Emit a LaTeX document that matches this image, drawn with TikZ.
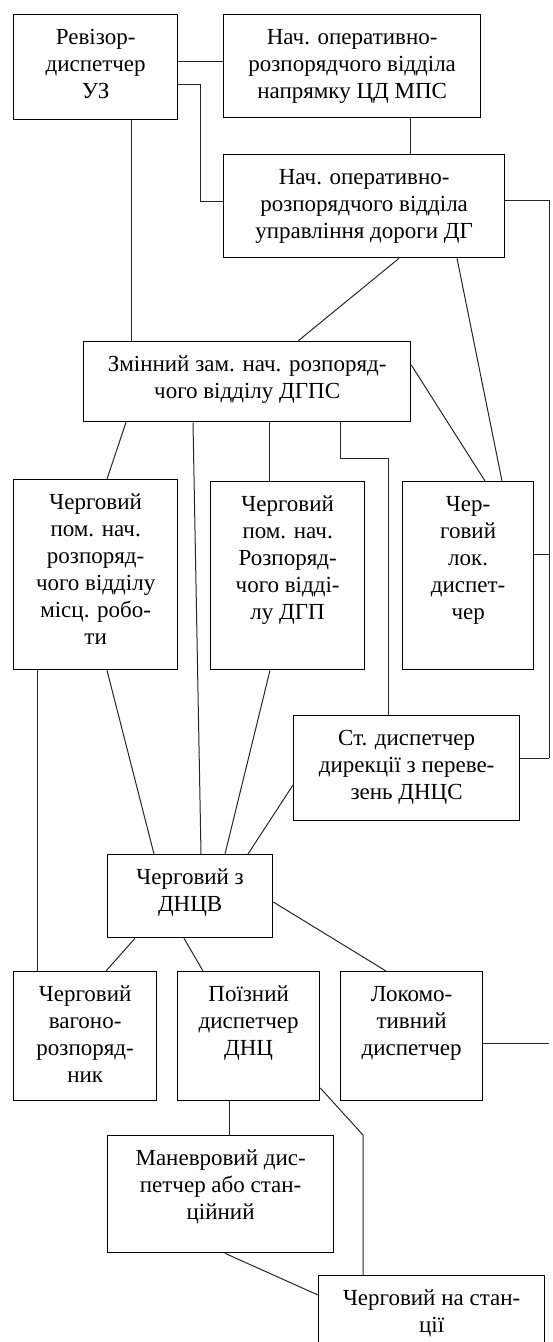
\documentclass[tikz,border=0pt]{standalone}
\usepackage{fontspec}
\setmainfont{Liberation Serif}
\newcommand{\bxt}[3]{\parbox[c][#2pt][t]{#1pt}{\centering\rule{0pt}{30pt}#3}}
\begin{document}
\begin{tikzpicture}[x=1pt,y=-1pt,
  bx/.style={draw=black, line width=1.3pt, inner sep=0pt, anchor=north west,
    font=\fontsize{23}{27}\selectfont},
  cn/.style={draw=black!85, line width=1pt}]
\useasboundingbox (0,0) rectangle (552,1342);
\node[bx] (A) at (13,14)   {\bxt{164}{105}{Ревізор-\\диспетчер\\УЗ}};
\node[bx] (B) at (223,14)  {\bxt{257}{103}{Нач. оперативно-\\розпорядчого відділа\\напрямку ЦД МПС}};
\node[bx] (C) at (223,154) {\bxt{281}{103}{Нач. оперативно-\\розпорядчого відділа\\управління дороги ДГ}};
\node[bx] (D) at (83,341)  {\bxt{327}{80}{Змінний зам. нач. розпоряд-\\чого відділу ДГПС}};
\node[bx] (E) at (13,479)  {\bxt{164}{190}{Черговий\\пом. нач.\\розпоряд-\\чого відділу\\місц. робо-\\ти}};
\node[bx] (F) at (210,481) {\bxt{154}{188}{Черговий\\пом. нач.\\Розпоряд-\\чого відді-\\лу ДГП}};
\node[bx] (G) at (402,481) {\bxt{131}{188}{Чер-\\говий\\лок.\\диспет-\\чер}};
\node[bx] (H) at (293,715) {\bxt{226}{105}{Ст. диспетчер\\дирекції з переве-\\зень ДНЦС}};
\node[bx] (I) at (107,854) {\bxt{165}{83}{Черговий з\\ДНЦВ}};
\node[bx] (J) at (13,971)  {\bxt{143}{129}{Черговий\\вагоно-\\розпоряд-\\ник}};
\node[bx] (K) at (177,971) {\bxt{142}{129}{Поїзний\\диспетчер\\ДНЦ}};
\node[bx] (L) at (340,971) {\bxt{142}{129}{Локомо-\\тивний\\диспетчер}};
\node[bx] (M) at (107,1135){\bxt{226}{117}{Маневровий дис-\\петчер або стан-\\ційний}};
\node[bx] (N) at (318,1275){\bxt{226}{90}{Черговий на стан-\\ції}};
% right bus
\coordinate (r1) at (549,200);
\coordinate (r2) at (549,758);
\coordinate (r3) at (549,1043);
% A-B
\coordinate (ab) at ([shift={(0,47)}]A.north east);
\draw[cn] (ab) -- (ab -| B.west);
% A-C
\coordinate (ac1) at ([shift={(0,70)}]A.north east);
\coordinate (ac2) at ([shift={(0,47)}]C.north west);
\draw[cn] (ac1) -| ([shift={(-23,0)}]ac2) -- (ac2);
% B-C
\draw[cn] ([shift={(187,0)}]B.south west) -- ([shift={(187,0)}]C.north west);
% A-D
\draw[cn] ([shift={(118,0)}]A.south west) -- ([shift={(48,0)}]D.north west);
% C-D
\draw[cn] ([shift={(176,0)}]C.south west) -- ([shift={(215,0)}]D.north west);
% C - right bus
\draw[cn] ([shift={(0,46)}]C.north east) -- (r1) -- (r2);
\coordinate (gr) at ([shift={(0,73)}]G.north east);
\draw[cn] (gr) -- (gr -| r1);
\draw[cn] ([shift={(0,43)}]H.north east) -- (r2);
\draw[cn] ([shift={(0,72)}]L.north east) -- (r3);
% C-G, D-G
\draw[cn] ([shift={(234,0)}]C.south west) -- ([shift={(100,0)}]G.north west);
\draw[cn] ([shift={(0,24)}]D.north east) -- ([shift={(83,0)}]G.north west);
% D to row 2
\draw[cn] ([shift={(43,0)}]D.south west) -- ([shift={(94,0)}]E.north west);
\draw[cn] ([shift={(110,0)}]D.south west) -- ([shift={(94,0)}]I.north west);
\draw[cn] ([shift={(186,0)}]D.south west) -- ([shift={(59,0)}]F.north west);
\draw[cn] ([shift={(257,0)}]D.south west) -- ++(0,36) -| ([shift={(95,0)}]H.north west);
% row 2 to I
\draw[cn] ([shift={(94,0)}]E.south west) -- ([shift={(47,0)}]I.north west);
\draw[cn] ([shift={(60,0)}]F.south west) -- ([shift={(118,0)}]I.north west);
\draw[cn] ([shift={(0,70)}]H.north west) -- ([shift={(141,0)}]I.north west);
% E-J
\draw[cn] ([shift={(24,0)}]E.south west) -- ([shift={(24,0)}]J.north west);
% I to row 3
\draw[cn] ([shift={(28,0)}]I.south west) -- ([shift={(93,0)}]J.north west);
\draw[cn] ([shift={(77,0)}]I.south west) -- ([shift={(26,0)}]K.north west);
\draw[cn] ([shift={(0,48)}]I.north east) -- ([shift={(46,0)}]L.north west);
% K-M, K-N, M-N
\draw[cn] ([shift={(52,0)}]K.south west) -- ([shift={(122,0)}]M.north west);
\coordinate (kn) at ([shift={(45,0)}]N.north west);
\draw[cn] ([shift={(0,117)}]K.north east) -- (kn |- M.north) -- (kn);
\draw[cn] ([shift={(118,0)}]M.south west) -- ([shift={(0,20)}]N.north west);
\end{tikzpicture}
\end{document}
